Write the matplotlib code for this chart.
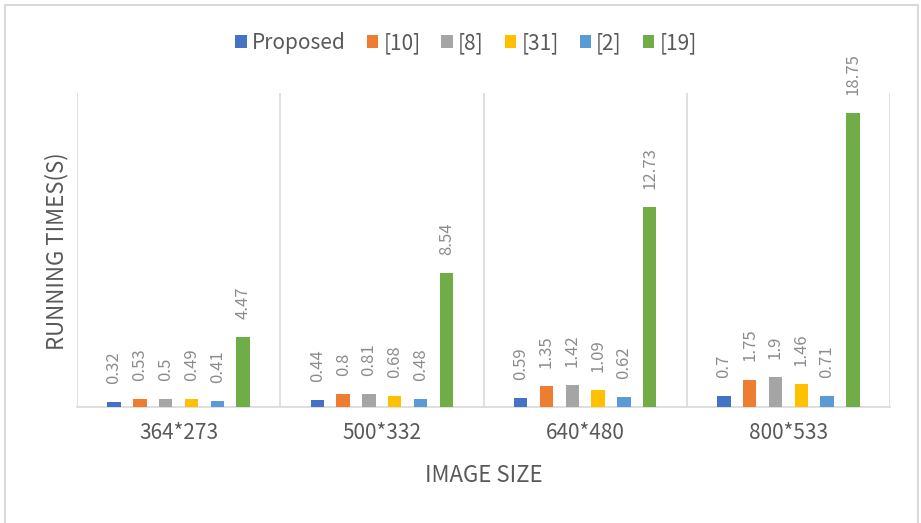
import matplotlib
matplotlib.use("Agg")
import matplotlib.pyplot as plt
import numpy as np
from matplotlib.patches import Rectangle

plt.rcParams['font.family'] = ['Noto Sans CJK SC', 'DejaVu Sans']

categories = ["364*273", "500*332", "640*480", "800*533"]
methods = ["Proposed", "[10]", "[8]", "[31]", "[2]", "[19]"]
values = {
    "Proposed": [0.32, 0.44, 0.59, 0.7],
    "[10]": [0.53, 0.8, 1.35, 1.75],
    "[8]": [0.5, 0.81, 1.42, 1.9],
    "[31]": [0.49, 0.68, 1.09, 1.46],
    "[2]": [0.41, 0.48, 0.62, 0.71],
    "[19]": [4.47, 8.54, 12.73, 18.75],
}
colors = ["#4472C4", "#ED7D31", "#A5A5A5", "#FFC000", "#5B9BD5", "#70AD47"]
text_gray = "#595959"

W, H = 921, 523
fig = plt.figure(figsize=(W / 100, H / 100), dpi=100)
ax = fig.add_axes([77 / W, 1 - 407 / H, (890 - 77) / W, (407 - 93) / H])

x = np.arange(len(categories))
step = 0.127
width = 0.066
for i, (m, c) in enumerate(zip(methods, colors)):
    pos = x + (i - 2.5) * step
    bars = ax.bar(pos, values[m], width=width, color=c, label=m, zorder=3)
    for b, v in zip(bars, values[m]):
        ax.annotate(f"{v:g}", (b.get_x() + b.get_width() / 2, b.get_height()),
                    xytext=(0, 13), textcoords="offset points",
                    rotation=90, ha="center", va="bottom",
                    fontsize=12, color="#8C8C8C")

ax.set_xlim(-0.5, len(categories) - 0.5)
ax.set_ylim(0, 20)
ax.set_yticks([])
ax.set_xticks(x)
ax.set_xticklabels(categories, fontsize=15, color=text_gray)
ax.tick_params(axis="x", length=0, pad=11)
for sep in np.arange(-0.5, len(categories), 1.0):
    ax.axvline(sep, color="#D9D9D9", lw=1.2, zorder=1)
for s in ["top", "right", "left"]:
    ax.spines[s].set_visible(False)
ax.spines["bottom"].set_color("#D9D9D9")
ax.spines["bottom"].set_linewidth(1.2)

fig.text(484 / W, 1 - 475 / H, "IMAGE SIZE", fontsize=16, color=text_gray,
         ha="center", va="center")
fig.text(57 / W, 1 - 251 / H, "RUNNING TIMES(S)", fontsize=16, color=text_gray,
         ha="center", va="center", rotation=90)

fig.legend(loc="center", bbox_to_anchor=(466 / W, 1 - 43 / H), ncol=6,
           frameon=False, fontsize=15, handlelength=0.55, handleheight=0.55,
           handletextpad=0.25, columnspacing=1.0, labelcolor=text_gray)

fig.patches.append(Rectangle((5 / W, -0.1), (918 - 5) / W, 1.1 - 5 / H,
                             transform=fig.transFigure, fill=False,
                             edgecolor="#D9D9D9", lw=1.5))

fig.savefig("out.png", dpi=100, facecolor="white")
